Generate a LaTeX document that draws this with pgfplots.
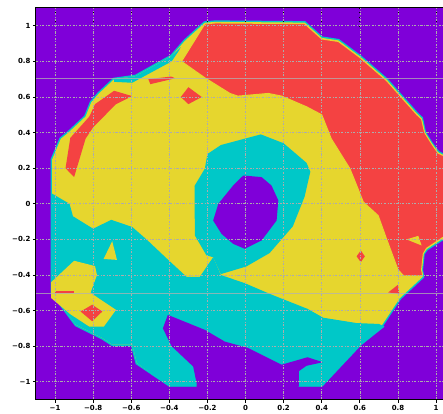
\documentclass[border=0pt]{standalone}
\usepackage{fontspec}
\setmainfont{DejaVu Sans}
\usepackage{pgfplots}
\pgfplotsset{compat=1.18}
\definecolor{cpurple}{HTML}{7F00D9}
\definecolor{ccyan}{HTML}{00C8C8}
\definecolor{cyellow}{HTML}{E6D62E}
\definecolor{cred}{HTML}{F44242}

\begin{document}
\begin{tikzpicture}
\begin{axis}[
  scale only axis, width=419.1pt, height=391.6pt,
  xmin=-1.1, xmax=1.1, ymin=-1.1, ymax=1.1,
  axis background/.style={fill=cpurple},
  axis on top, no markers,
  xtick={-1,-0.8,-0.6,-0.4,-0.2,0,0.2,0.4,0.6,0.8,1},
  ytick={-1,-0.8,-0.6,-0.4,-0.2,0,0.2,0.4,0.6,0.8,1},
  xticklabels={−1,−0.8,−0.6,−0.4,−0.2,0,0.2,0.4,0.6,0.8,1},
  yticklabels={−1,−0.8,−0.6,−0.4,−0.2,0,0.2,0.4,0.6,0.8,1},
  tick pos=left, tick align=outside, major tick length=3pt,
  tick style={black, line width=0.8pt},
  ticklabel style={font=\fontsize{7}{8}\selectfont\bfseries},
  xticklabel style={yshift=1pt},
  yticklabel style={xshift=1pt},
  axis line style={black, line width=1pt},
  grid=major,
  major grid style={draw=gray!65, line width=0.7pt, dash pattern=on 2.2pt off 1.6pt on 0.7pt off 1.6pt},
]
% outline of the sampled disc: cyan rim, yellow body
\addplot[draw=ccyan, line width=3pt] coordinates {
 (-0.388,0.83) (-0.32,0.914) (-0.214,1.017) (-0.16,1.022) (0.31,1.018) (0.40,0.932)
 (0.487,0.918) (0.60,0.828) (0.74,0.698) (0.898,0.508) (0.924,0.481) (0.94,0.40)
 (0.975,0.34) (1.01,0.29) (1.08,0.25) (1.08,-0.19) (1.034,-0.197) (0.95,-0.255)
 (0.933,-0.28) (0.924,-0.37) (0.93,-0.41) (0.81,-0.53) (0.714,-0.685) (0.60,-0.79)
 (0.40,-1.018) (-0.40,-1.018) (-0.57,-0.895) (-0.595,-0.79) (-0.70,-0.79) (-0.75,-0.755)
 (-0.89,-0.68) (-1.015,-0.50) (-1.015,0.25) (-0.97,0.365) (-0.93,0.40) (-0.84,0.49)
 (-0.81,0.57) (-0.77,0.62) (-0.69,0.70) (-0.577,0.717)} -- cycle;
\addplot[fill=cyellow, draw=none] coordinates {
 (-0.388,0.83) (-0.32,0.914) (-0.214,1.017) (-0.16,1.022) (0.31,1.018) (0.40,0.932)
 (0.487,0.918) (0.60,0.828) (0.74,0.698) (0.898,0.508) (0.924,0.481) (0.94,0.40)
 (0.975,0.34) (1.01,0.29) (1.08,0.25) (1.08,-0.19) (1.034,-0.197) (0.95,-0.255)
 (0.933,-0.28) (0.924,-0.37) (0.93,-0.41) (0.81,-0.53) (0.714,-0.685) (0.60,-0.79)
 (0.40,-1.018) (-0.40,-1.018) (-0.57,-0.895) (-0.595,-0.79) (-0.70,-0.79) (-0.75,-0.755)
 (-0.89,-0.68) (-1.015,-0.50) (-1.015,0.25) (-0.97,0.365) (-0.93,0.40) (-0.84,0.49)
 (-0.81,0.57) (-0.77,0.62) (-0.69,0.70) (-0.577,0.717)} -- cycle;
% thin cyan band at upper left
\addplot[fill=ccyan, draw=none] coordinates {
 (-0.69,0.70) (-0.577,0.717) (-0.388,0.83) (-0.34,0.88) (-0.35,0.86) (-0.388,0.80)
 (-0.595,0.68) (-0.69,0.685)} -- cycle;
% lower cyan level
\addplot[fill=ccyan, draw=none] coordinates {
 (-1.02,0.06) (-0.924,0.0) (-0.906,-0.07) (-0.80,-0.14) (-0.705,-0.09) (-0.595,-0.13)
 (-0.52,-0.20) (-0.416,-0.305) (-0.31,-0.41) (-0.24,-0.41) (-0.17,-0.30) (-0.13,-0.40)
 (-0.004,-0.446) (0.136,-0.51) (0.325,-0.59) (0.408,-0.64) (0.583,-0.67) (0.70,-0.675)
 (0.73,-0.69) (0.60,-0.80) (0.40,-1.025) (-0.40,-1.025) (-0.57,-0.895) (-0.595,-0.79)
 (-0.70,-0.79) (-0.75,-0.755) (-0.89,-0.68) (-1.02,-0.50)} -- cycle;
% cyan ring round the centre
\addplot[fill=ccyan, draw=none] coordinates {
 (-0.13,0.33) (0.08,0.39) (0.20,0.34) (0.32,0.23) (0.34,0.18) (0.31,0.04) (0.248,-0.127)
 (0.126,-0.277) (0.004,-0.352) (-0.13,-0.395) (-0.17,-0.30) (-0.205,-0.29) (-0.266,-0.178)
 (-0.268,0.10) (-0.214,0.197) (-0.20,0.28)} -- cycle;
% central low
\addplot[fill=cpurple, draw=none] coordinates {
 (-0.012,0.159) (0.084,0.15) (0.136,0.103) (0.172,0.019) (0.163,-0.094) (0.084,-0.206)
 (-0.004,-0.253) (-0.065,-0.225) (-0.126,-0.169) (-0.17,-0.094) (-0.143,0.0) (-0.065,0.103)} -- cycle;
% yellow islands in the cyan level
\addplot[fill=cyellow, draw=none] coordinates {(-0.70,-0.21) (-0.745,-0.31) (-0.675,-0.315)} -- cycle;
\addplot[fill=cyellow, draw=none] coordinates {
 (-1.02,-0.44) (-0.90,-0.32) (-0.79,-0.35) (-0.78,-0.40) (-0.814,-0.50) (-0.68,-0.596)
 (-0.744,-0.69) (-0.82,-0.69) (-0.92,-0.62) (-1.02,-0.53)} -- cycle;
% lower purple basin
\addplot[fill=cpurple, draw=none] coordinates {
 (-0.408,-0.624) (-0.434,-0.70) (-0.388,-0.80) (-0.275,-0.914) (-0.257,-1.007) (-0.257,-1.2)
 (0.275,-1.2) (0.28,-0.99) (0.28,-0.94) (0.32,-0.91) (0.406,-0.89) (0.325,-0.862)
 (0.189,-0.904) (0.014,-0.81) (-0.109,-0.774) (-0.214,-0.708)} -- cycle;
% red high
\addplot[fill=cred, draw=cyellow, line width=1pt] coordinates {
 (-0.214,1.01) (-0.16,1.016) (0.31,1.012) (0.40,0.926) (0.487,0.912) (0.60,0.822)
 (0.74,0.692) (0.898,0.502) (0.924,0.475) (0.94,0.40) (0.975,0.34) (1.01,0.285)
 (1.08,0.25) (1.08,-0.19) (1.034,-0.19) (0.95,-0.25) (0.933,-0.28) (0.924,-0.37)
 (0.93,-0.405) (0.83,-0.405) (0.80,-0.37) (0.74,-0.197) (0.696,-0.066) (0.618,0.01)
 (0.548,0.197) (0.45,0.365) (0.40,0.50) (0.32,0.545) (0.19,0.605) (0.119,0.62)
 (-0.04,0.605) (-0.082,0.62) (-0.214,0.708) (-0.336,0.80)} -- cycle;
\addplot[fill=cyellow, draw=none] coordinates {(0.845,-0.20) (0.907,-0.18) (0.924,-0.234)} -- cycle;
% small red patches
\addplot[fill=cred, draw=none] coordinates {
 (-0.69,0.635) (-0.79,0.56) (-0.82,0.49) (-0.92,0.37) (-0.945,0.20) (-0.90,0.15)
 (-0.84,0.365) (-0.80,0.43) (-0.68,0.56) (-0.595,0.605)} -- cycle;
\addplot[fill=cred, draw=none] coordinates {(-0.51,0.70) (-0.39,0.715) (-0.37,0.705) (-0.50,0.672)} -- cycle;
\addplot[fill=cred, draw=none] coordinates {(-0.30,0.655) (-0.23,0.60) (-0.30,0.56) (-0.34,0.60)} -- cycle;
\addplot[fill=cred, draw=none] coordinates {(-1.0,-0.489) (-0.90,-0.489) (-0.90,-0.50) (-1.0,-0.50)} -- cycle;
\addplot[fill=cred, draw=none] coordinates {(-0.866,-0.605) (-0.805,-0.567) (-0.752,-0.605) (-0.805,-0.66)} -- cycle;
\addplot[fill=cred, draw=none] coordinates {(0.583,-0.295) (0.605,-0.262) (0.626,-0.295) (0.605,-0.328)} -- cycle;
\addplot[fill=cred, draw=none] coordinates {(0.749,-0.498) (0.80,-0.455) (0.807,-0.506)} -- cycle;
% reference lines
\addplot[draw=gray!60, opacity=0.75, line width=0.9pt] coordinates {(-1.1,0.702) (1.1,0.702)};
\addplot[draw=gray!60, opacity=0.75, line width=0.9pt] coordinates {(-1.1,-0.506) (1.1,-0.506)};
% dark stubs above the top grid row
\pgfplotsinvokeforeach{-1,-0.8,-0.6,-0.4,-0.2,0,0.2,0.4,0.6,0.8,1}{
  \addplot[draw=black, line width=0.8pt, dash pattern=on 0.8pt off 3.6pt] coordinates {(#1,1.1) (#1,1.0)};
}
\end{axis}
\pgfresetboundingbox
\path ([xshift=-36pt,yshift=-13.4pt]current axis.south west) rectangle ([xshift=407pt,yshift=8pt]current axis.north west);
\end{tikzpicture}
\end{document}
